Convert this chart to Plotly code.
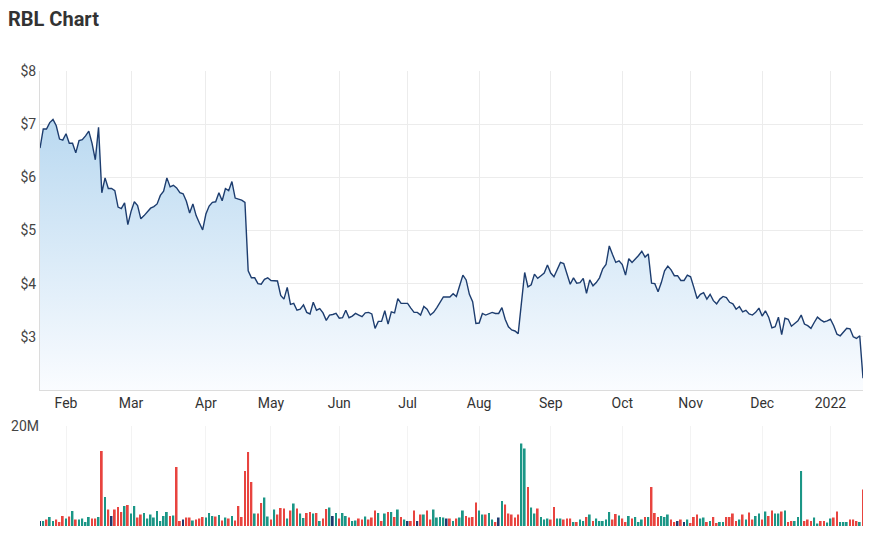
import pandas as pd
import plotly.graph_objects as go

# ---------------- data ----------------
holidays = ["2021-01-26", "2021-04-02", "2021-04-05", "2021-06-14",
            "2021-12-27", "2021-12-28", "2022-01-03"]
bday = pd.offsets.CustomBusinessDay(holidays=holidays)
dates = [d.strftime("%Y-%m-%d") for d in pd.date_range("2021-01-19", "2022-01-18", freq=bday)]

price = [
    6.55, 6.91, 6.91, 7.03, 7.09, 6.97, 6.72, 6.70, 6.82, 6.64,
    6.64, 6.46, 6.69, 6.71, 6.78, 6.87, 6.64, 6.33, 6.94, 5.71,
    5.99, 5.79, 5.79, 5.75, 5.44, 5.41, 5.52, 5.11, 5.36, 5.54,
    5.47, 5.22, 5.28, 5.36, 5.42, 5.45, 5.50, 5.66, 5.74, 5.99,
    5.82, 5.85, 5.80, 5.71, 5.69, 5.55, 5.33, 5.50, 5.28, 5.14,
    5.01, 5.31, 5.46, 5.53, 5.54, 5.71, 5.56, 5.79, 5.75, 5.92,
    5.61, 5.59, 5.57, 5.53, 4.24, 4.11, 4.11, 4.00, 3.99, 4.08,
    4.11, 4.06, 4.06, 4.05, 3.78, 3.71, 3.93, 3.61, 3.63, 3.50,
    3.52, 3.60, 3.46, 3.43, 3.65, 3.50, 3.53, 3.45, 3.31, 3.41,
    3.42, 3.44, 3.35, 3.36, 3.50, 3.36, 3.39, 3.44, 3.41, 3.38,
    3.45, 3.46, 3.43, 3.16, 3.29, 3.29, 3.49, 3.24, 3.47, 3.45,
    3.72, 3.63, 3.63, 3.63, 3.54, 3.46, 3.46, 3.41, 3.57, 3.52,
    3.41, 3.46, 3.55, 3.66, 3.75, 3.75, 3.75, 3.81, 3.76, 3.96,
    4.16, 4.07, 3.80, 3.66, 3.25, 3.26, 3.44, 3.41, 3.43, 3.46,
    3.44, 3.44, 3.55, 3.33, 3.19, 3.13, 3.11, 3.06, 3.64, 4.21,
    3.94, 3.98, 4.18, 4.10, 4.15, 4.20, 4.35, 4.20, 4.13, 4.27,
    4.40, 4.38, 4.19, 3.99, 4.11, 4.01, 4.02, 4.10, 3.82, 4.07,
    3.96, 4.02, 4.11, 4.28, 4.36, 4.71, 4.55, 4.40, 4.43, 4.36,
    4.16, 4.47, 4.40, 4.46, 4.53, 4.61, 4.50, 4.56, 4.01, 4.00,
    3.85, 4.02, 4.24, 4.33, 4.26, 4.15, 4.15, 4.06, 4.06, 4.16,
    4.13, 3.93, 3.72, 3.80, 3.83, 3.71, 3.80, 3.68, 3.62, 3.71,
    3.76, 3.74, 3.65, 3.62, 3.52, 3.57, 3.47, 3.50, 3.43, 3.41,
    3.46, 3.54, 3.39, 3.49, 3.37, 3.17, 3.19, 3.37, 3.04, 3.35,
    3.33, 3.20, 3.25, 3.30, 3.41, 3.24, 3.21, 3.16, 3.27, 3.37,
    3.32, 3.28, 3.30, 3.33, 3.21, 3.05, 3.02, 3.08, 3.16, 3.15,
    3.00, 2.97, 3.02, 2.22,
]

volume_m = [
    1.0, 1.0, 1.3, 1.8, 1.0, 1.3, 0.8, 2.0, 1.5, 1.9,
    3.0, 1.3, 1.3, 1.5, 0.8, 1.8, 1.5, 1.5, 1.8, 15.0,
    5.8, 3.3, 2.0, 3.3, 3.8, 2.8, 4.0, 4.2, 2.5, 4.0,
    1.7, 2.3, 2.6, 1.5, 2.3, 1.7, 3.0, 1.0, 2.0, 2.8,
    2.0, 2.1, 11.8, 1.0, 1.3, 1.7, 1.7, 1.1, 1.3, 1.5,
    1.8, 1.7, 2.6, 2.0, 1.9, 2.2, 1.1, 1.7, 1.5, 2.0,
    1.1, 4.0, 1.8, 11.0, 14.8, 8.8, 2.5, 2.5, 4.6, 5.7,
    1.9, 1.3, 3.3, 2.3, 3.6, 3.5, 1.5, 3.1, 4.5, 3.5,
    2.5, 1.6, 2.6, 2.8, 2.5, 2.6, 1.0, 1.5, 3.4, 3.7,
    2.0, 2.6, 1.5, 2.6, 2.0, 1.7, 1.0, 1.1, 1.5, 1.3,
    1.9, 1.3, 1.7, 3.1, 2.6, 1.0, 2.5, 2.8, 2.8, 1.8,
    3.3, 1.8, 1.3, 1.0, 1.0, 3.1, 1.0, 2.3, 2.3, 3.1,
    1.3, 3.3, 1.7, 1.8, 1.7, 1.5, 1.5, 1.0, 1.5, 1.7,
    3.1, 2.0, 1.7, 1.8, 4.7, 3.1, 2.3, 2.3, 2.6, 1.3,
    0.8, 1.7, 5.0, 4.3, 2.5, 2.3, 1.7, 2.3, 16.5, 15.5,
    7.8, 3.7, 2.5, 3.5, 1.8, 1.3, 1.5, 1.3, 3.8, 1.5,
    1.5, 1.3, 1.5, 1.5, 0.8, 0.8, 1.3, 1.0, 1.8, 2.3,
    1.0, 1.5, 1.0, 1.0, 1.3, 2.8, 1.3, 2.4, 2.1, 1.5,
    0.8, 2.0, 1.5, 1.8, 0.8, 1.3, 1.8, 1.8, 7.8, 2.6,
    1.8, 2.0, 1.8, 2.3, 1.3, 0.8, 1.0, 1.3, 0.8, 1.3,
    0.6, 1.8, 2.3, 1.5, 1.7, 0.8, 1.0, 1.8, 0.6, 0.8,
    0.8, 1.8, 1.8, 2.5, 1.0, 1.3, 2.3, 1.3, 2.7, 1.3,
    2.0, 2.5, 1.3, 2.9, 2.0, 3.1, 2.5, 2.5, 2.9, 3.1,
    0.8, 1.0, 1.0, 1.8, 11.0, 1.0, 1.3, 1.0, 1.7, 0.5,
    1.0, 1.0, 0.7, 1.5, 1.7, 2.9, 0.8, 0.8, 0.8, 1.3,
    1.3, 1.0, 0.8, 7.3,
]

# day direction: r = down, g = up, n = unchanged
direction = list(
    "ngrggrrrgr" "grggggrrgr" "grnrrrgrgg" "rrgggggggg" "rgrrnrrgrr"
    "rgggrgrgrg" "rrrrrrgrrg" "grgrrrgrgr" "ggrrgrgrrg" "ngrggrggrr"
    "grrrgrgrgr" "grgnrrnrgr" "rggggnrgrg" "grrrrggrgg" "rngrrrrrgg"
    "rggrgggrrg" "grrrgrggrg" "rgggggrrgr" "rgrgggrgrr" "rgggrrnrng"
    "rrrggrgrrg" "grrrrgrgrr" "ggrgrrggrg" "rrgggrrrgg" "rrggrrgggr"
    "rrgr"
)

month_labels = ["Feb", "Mar", "Apr", "May", "Jun", "Jul", "Aug",
                "Sep", "Oct", "Nov", "Dec", "2022"]

# ---------------- derived ----------------
n = min(len(dates), len(price), len(volume_m), len(direction))
dates, price, volume_m, direction = dates[:n], price[:n], volume_m[:n], direction[:n]

tick_dates = [dates[i] for i in range(1, n) if dates[i][:7] != dates[i - 1][:7]]
tick_text = month_labels[:len(tick_dates)]

color_map = {"r": "#e8443f", "g": "#1b9686", "n": "#1f3a6e"}
bar_colors = [color_map[c] for c in direction]
volume = [v * 1e6 for v in volume_m]

FONT = "Roboto, Arial, sans-serif"
GRID = "#ececec"

fig = go.Figure()
fig.add_trace(go.Scatter(
    x=dates, y=price, mode="lines",
    line=dict(color="#1d3d6f", width=1.4),
    fill="tozeroy",
    fillgradient=dict(type="vertical", start=2, stop=7.2,
                      colorscale=[[0, "rgb(250,252,255)"], [1, "rgb(184,216,240)"]]),
    xaxis="x", yaxis="y", hoverinfo="x+y",
))
fig.add_trace(go.Bar(
    x=dates, y=volume, marker=dict(color=bar_colors, line=dict(width=0)),
    xaxis="x2", yaxis="y2",
))

common_x = dict(type="category", range=[0, n - 1], tickvals=tick_dates, ticktext=tick_text,
                showgrid=True, gridwidth=1, ticks="",
                tickfont=dict(family=FONT, size=14, color="#333333"))

fig.update_layout(
    width=884, height=538,
    margin=dict(l=40, r=21, t=71, b=12),
    paper_bgcolor="white", plot_bgcolor="white",
    showlegend=False, bargap=0.45,
    title=dict(text="<b>RBL Chart</b>", x=8 / 884, xref="container", xanchor="left",
               y=1 - 19 / 538, yref="container", yanchor="middle",
               font=dict(family=FONT, size=20, color="#333333")),
    xaxis=dict(**common_x, gridcolor=GRID, domain=[0, 1], anchor="y",
               showline=True, linecolor="#dcdcdc", linewidth=1),
    xaxis2=dict(**common_x, gridcolor="#f3f3f3", domain=[0, 1], anchor="y2",
                showticklabels=False, showline=False),
    yaxis=dict(domain=[0.2989, 1.0], range=[2, 8],
               tickvals=[3, 4, 5, 6, 7, 8], ticktext=["$3", "$4", "$5", "$6", "$7", "$8"],
               showgrid=True, gridcolor=GRID, zeroline=False, ticks="",
               showline=True, linecolor="#dcdcdc", linewidth=1,
               tickfont=dict(family=FONT, size=14, color="#444444")),
    yaxis2=dict(domain=[0, 0.2198], range=[0, 20e6],
                tickvals=[20e6], ticktext=["20M"],
                showgrid=True, gridcolor="#e6e6e6", zeroline=False, ticks="",
                tickfont=dict(family=FONT, size=14, color="#444444")),
)

fig.write_html("out.html")
